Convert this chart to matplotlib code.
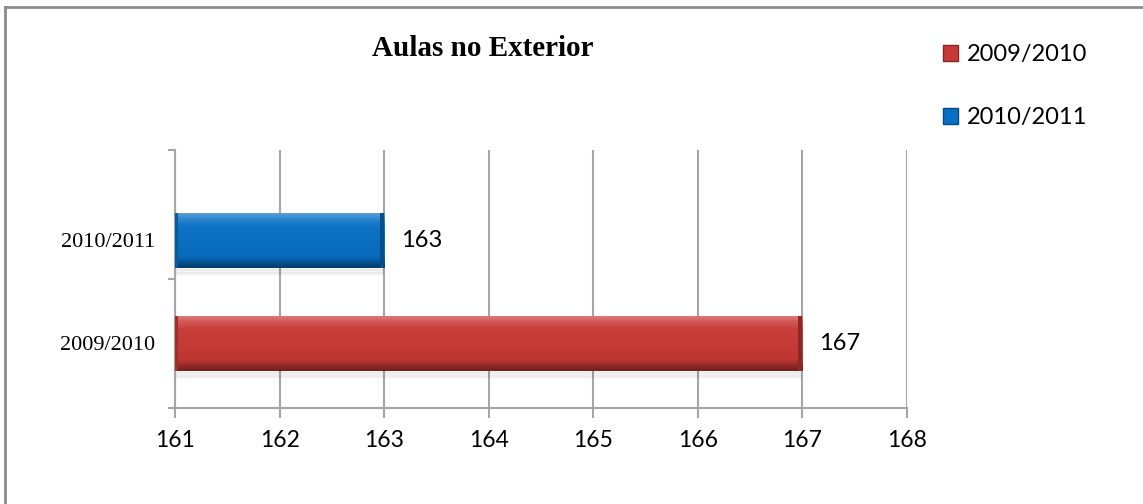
import matplotlib.pyplot as plt
import numpy as np
from matplotlib import colors
from matplotlib.lines import Line2D
from matplotlib.patches import Rectangle

# Data
categories = ["2009/2010", "2010/2011"]
values = [167, 163]
bar_colors = ["#C83A36", "#0870C4"]
x_ticks = [161, 162, 163, 164, 165, 166, 167, 168]
title = "Aulas no Exterior"

GRID = "#A6A6A6"
CALIBRI_LIKE = "Lato"
TIMES_LIKE = "Liberation Serif"


def shade(color, amount):
    rgb = np.array(colors.to_rgb(color))
    if amount > 0:
        return rgb + (1 - rgb) * amount
    return rgb * (1 + amount)


def bevel_gradient(color):
    # vertical profile: light top edge, base body, dark bottom edge
    stops = [(0.0, shade(color, 0.35)), (0.12, shade(color, 0.15)), (0.25, shade(color, 0.02)),
             (0.8, shade(color, -0.05)), (0.92, shade(color, -0.3)), (1.0, shade(color, -0.45))]
    return colors.LinearSegmentedColormap.from_list("bevel", stops)


def main():
    fig = plt.figure(figsize=(11.43, 5.04), dpi=100)
    ax = fig.add_axes([0.1531, 0.1905, 0.6404, 0.5119])

    # Excel drew the upper bar a bit below its band centre
    ys = np.array([0.0, 0.8])
    bars = ax.barh(ys, [v - x_ticks[0] for v in values], left=x_ticks[0], height=0.43,
                   color=bar_colors, zorder=3)

    grad = np.linspace(0, 1, 100).reshape(-1, 1)
    for bar, color in zip(bars, bar_colors):
        x0, y0 = bar.get_x(), bar.get_y()
        w, h = bar.get_width(), bar.get_height()
        # soft shadow under the bar
        for k in range(5):
            ax.add_patch(Rectangle((x0, y0 - 0.012 * (k + 1)), w, 0.02, facecolor="black",
                                   alpha=0.04, edgecolor="none", zorder=2))
        im = ax.imshow(grad, aspect="auto", cmap=bevel_gradient(color),
                       extent=(x0, x0 + w, y0, y0 + h), origin="upper", zorder=4)
        im.set_clip_path(bar)
        # darker end caps
        ax.add_patch(Rectangle((x0, y0), 0.03, h, facecolor=shade(color, -0.2),
                               edgecolor="none", zorder=5))
        ax.add_patch(Rectangle((x0 + w - 0.04, y0), 0.04, h, facecolor=shade(color, -0.3),
                               edgecolor="none", zorder=5))
        ax.text(x0 + w + 0.16, y0 + h / 2, f"{x0 + w:.0f}", va="center", ha="left",
                fontsize=17, family=CALIBRI_LIKE)

    ax.set_xlim(x_ticks[0], x_ticks[-1])
    ax.set_ylim(-0.5, len(categories) - 0.5)
    ax.set_xticks(x_ticks)
    ax.set_xticklabels([str(t) for t in x_ticks], fontsize=16.5, family=CALIBRI_LIKE)
    ax.set_yticks(ys)
    ax.set_yticklabels(categories, fontsize=16, family=TIMES_LIKE)
    ax.set_yticks([-0.5, 0.5, 1.5], minor=True)
    ax.tick_params(axis="y", which="major", length=0, pad=14)
    ax.tick_params(axis="y", which="minor", length=5, width=1.5, color=GRID)
    ax.tick_params(axis="x", length=7, width=1.5, color=GRID, pad=9)
    ax.grid(axis="x", color=GRID, linewidth=1.5, zorder=0)
    ax.set_axisbelow(True)
    for side in ["top", "right"]:
        ax.spines[side].set_visible(False)
    for side in ["left", "bottom"]:
        ax.spines[side].set_color(GRID)
        ax.spines[side].set_linewidth(1.5)

    fig.text(0.4226, 0.903, title, ha="center", va="center", fontsize=21,
             fontweight="bold", family=TIMES_LIKE)

    handles = [Rectangle((0, 0), 1, 1, facecolor=c, edgecolor=shade(c, -0.35)) for c in bar_colors]
    fig.legend(handles, categories, loc="upper left", bbox_to_anchor=(0.806, 0.955),
               frameon=False, prop={"family": CALIBRI_LIKE, "size": 17},
               handlelength=0.65, handleheight=0.65, handletextpad=0.4, labelspacing=1.8)

    # outer chart border (only left and top edges visible)
    fig.add_artist(Line2D([4.5 / 1143, 4.5 / 1143], [0, 1 - 6.5 / 504], transform=fig.transFigure,
                          color="#8C8C8C", linewidth=2))
    fig.add_artist(Line2D([4.5 / 1143, 1], [1 - 6.5 / 504, 1 - 6.5 / 504], transform=fig.transFigure,
                          color="#8C8C8C", linewidth=2))

    fig.savefig("out.png", dpi=100)


if __name__ == "__main__":
    main()
